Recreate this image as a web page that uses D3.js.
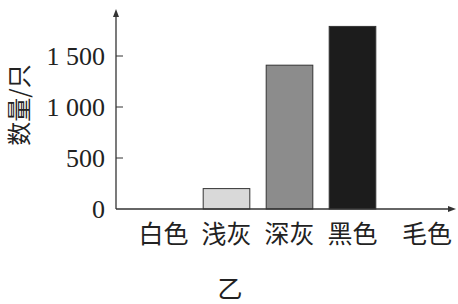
<!DOCTYPE html>
<html>
<head>
<meta charset="utf-8">
<script src="https://cdn.jsdelivr.net/npm/d3@7"></script>
<style>
  body { margin: 0; background: #fff; }
  .cjk { font-family: "Noto Sans CJK SC", sans-serif; fill: #222; }
  .num { font-family: "Liberation Serif", "DejaVu Serif", serif; fill: #222; }
</style>
</head>
<body>
<div id="chart"></div>
<script>
var categories = ["白色", "浅灰", "深灰", "黑色"];
var counts = [0, 200, 1410, 1790];
var barColors = ["#ffffff", "#d9d9d9", "#8c8c8c", "#1c1c1c"];
var yTicks = [0, 500, 1000, 1500];
var yTickLabels = ["0", "500", "1 000", "1 500"];

var W = 458, H = 304;
var svg = d3.select("#chart").append("svg")
    .attr("width", W)
    .attr("height", H);

var x0 = 116, y0 = 209; // origin of the axes

var x = d3.scaleBand()
    .domain(categories)
    .range([132, 384])
    .paddingInner(0.26)
    .paddingOuter(0.13);

var y = d3.scaleLinear()
    .domain([0, 1500])
    .range([y0, 56]);

// bars (white one has value 0 so nothing shows)
svg.selectAll(".bar")
  .data(categories)
  .enter()
  .append("rect")
  .attr("class", "bar")
  .attr("x", function(d) { return x(d); })
  .attr("width", x.bandwidth())
  .attr("y", function(d, i) { return y(counts[i]); })
  .attr("height", function(d, i) { return y0 - y(counts[i]); })
  .attr("fill", function(d, i) { return barColors[i]; })
  .attr("stroke", function(d, i) { return counts[i] > 0 ? "#333" : "none"; })
  .attr("stroke-width", 1);

// y axis line with arrow
svg.append("line")
  .attr("x1", x0).attr("y1", y0)
  .attr("x2", x0).attr("y2", 14)
  .attr("stroke", "#333").attr("stroke-width", 1.3);
svg.append("path")
  .attr("d", "M" + x0 + ",9 L" + (x0 - 3) + ",17 L" + (x0 + 3) + ",17 Z")
  .attr("fill", "#333");

// x axis line with arrow
svg.append("line")
  .attr("x1", x0).attr("y1", y0)
  .attr("x2", 450).attr("y2", y0)
  .attr("stroke", "#333").attr("stroke-width", 1.3);
svg.append("path")
  .attr("d", "M456," + y0 + " L448," + (y0 - 3) + " L448," + (y0 + 3) + " Z")
  .attr("fill", "#333");

// tick marks (inside) and labels
svg.selectAll(".tick")
  .data(yTicks.filter(function(d) { return d > 0; }))
  .enter()
  .append("line")
  .attr("x1", x0).attr("x2", x0 + 7)
  .attr("y1", function(d) { return y(d); })
  .attr("y2", function(d) { return y(d); })
  .attr("stroke", "#333").attr("stroke-width", 1);

svg.selectAll(".ylab")
  .data(yTicks)
  .enter()
  .append("text")
  .attr("class", "num")
  .attr("x", 105)
  .attr("y", function(d) { return y(d); })
  .attr("dy", "0.35em")
  .attr("text-anchor", "end")
  .attr("font-size", 26)
  .text(function(d, i) { return yTickLabels[i]; });

// category labels
svg.selectAll(".xlab")
  .data(categories)
  .enter()
  .append("text")
  .attr("class", "cjk")
  .attr("x", function(d) { return x(d) + x.bandwidth() / 2; })
  .attr("y", 243)
  .attr("text-anchor", "middle")
  .attr("font-size", 25)
  .text(function(d) { return d; });

// x axis title at the arrow end
svg.append("text")
  .attr("class", "cjk")
  .attr("x", 427).attr("y", 243)
  .attr("text-anchor", "middle")
  .attr("font-size", 25)
  .text("毛色");

// y axis title, vertical
svg.append("text")
  .attr("class", "cjk")
  .attr("transform", "translate(17,105) rotate(-90)")
  .attr("text-anchor", "middle")
  .attr("dominant-baseline", "central")
  .attr("font-size", 24)
  .text("数量/只");

// caption
svg.append("text")
  .attr("class", "cjk")
  .attr("x", 230).attr("y", 298)
  .attr("text-anchor", "middle")
  .attr("font-size", 25)
  .text("乙");
</script>
</body>
</html>
